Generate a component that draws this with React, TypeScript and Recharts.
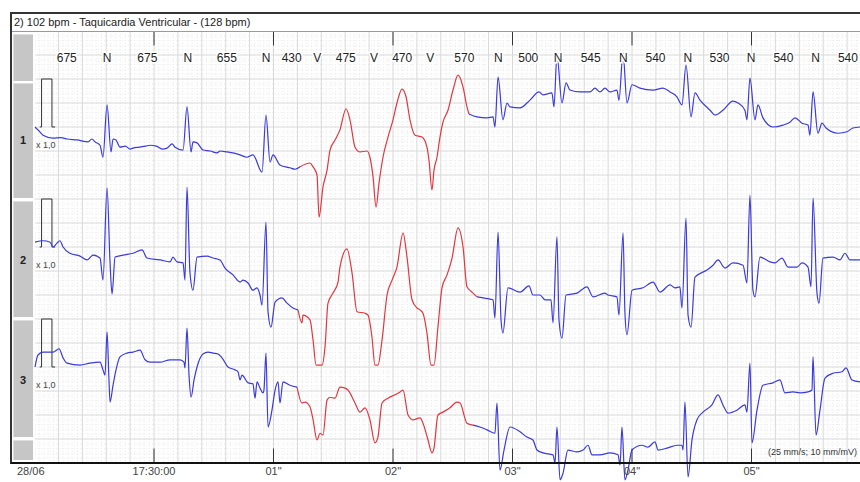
import React from "react";
import {
	LabelList,
	Line,
	LineChart,
	ReferenceLine,
	XAxis,
	YAxis,
} from "recharts";

type Pt = [number, number]; // [time ms from 17:30:00, amplitude mV]

const FONT = "'Liberation Sans', Arial, sans-serif";
const BLUE = "#3a3ade";
const RED = "#e2363e";

// time window (ms) and vertical window (mV, 0 = top of the strip)
const T_MIN = -996;
const T_MAX = 5908;
const V_MIN = -9.396;
const V_MAX = 0;
const V_AXIS = -8.98; // bottom edge of the paper

// lead baselines inside the strip
const leadOffsets = [-2, -4.5, -7];
const leadNames = ["1", "2", "3"];

// beat annotations
const firstBeat = -1068;
const rrIntervals = [675, 675, 655, 430, 475, 470, 570, 500, 545, 540, 530, 540, 540];
const beatTypes = ["N", "N", "N", "N", "V", "V", "V", "N", "N", "N", "N", "N", "N", "N"];

// time axis
const timeTicks = [0, 1000, 2000, 3000, 4000, 5000];
const timeLabels = ["17:30:00", '01"', '02"', '03"', '04"', '05"'];

// 1 mV calibration pulse
const calibrationPulse: Pt[] = [
	[-956, 0], [-941, 0], [-941, 1], [-854, 1], [-854, 0], [-828, 0],
];

// lead 1
const lead1Before: Pt[] = [
	[-996, 0], [-971, -0.06], [-929, -0.17], [-845, -0.23], [-780, -0.22], [-728, -0.25],
	[-644, -0.27], [-552, -0.31], [-519, -0.25], [-494, -0.31], [-452, -0.38], [-427, -0.63],
	[-393, 0.46], [-360, -0.52], [-343, -0.25], [-318, -0.27], [-285, -0.42], [-240, -0.4],
	[-200, -0.46], [-176, -0.44], [-120, -0.42], [-70, -0.4], [-33, -0.38], [20, -0.4],
	[70, -0.46], [109, -0.44], [151, -0.35], [176, -0.42], [243, -0.48], [276, 0.42],
	[310, -0.52], [326, -0.31], [360, -0.33], [410, -0.48], [470, -0.5], [527, -0.54],
	[552, -0.5], [610, -0.52], [661, -0.54], [720, -0.58], [778, -0.63], [828, -0.58],
	[904, -0.94], [937, 0.25], [971, -0.73], [996, -0.58], [1054, -0.79], [1138, -0.85],
	[1180, -0.88], [1222, -0.83],
];
const lead1Vt: Pt[] = [
	[1222, -0.83], [1305, -0.75], [1331, -0.83], [1364, -1.0], [1381, -1.88], [1414, -1.25],
	[1448, -0.9], [1473, -0.48], [1515, -0.27], [1556, -0.06], [1607, 0.38], [1640, 0.15],
	[1682, -0.42], [1724, -0.52], [1782, -0.5], [1807, -0.63], [1833, -1.04], [1858, -1.67],
	[1883, -1.17], [1916, -0.63], [1958, -0.21], [2000, 0.15], [2033, 0.5], [2075, 0.79],
	[2109, 0.63], [2142, 0.15], [2184, -0.17], [2243, -0.21], [2284, -0.42], [2301, -0.69],
	[2326, -1.31], [2343, -0.9], [2368, -0.63], [2393, -0.21], [2418, 0.1], [2460, 0.35],
	[2502, 0.77], [2544, 1.08], [2586, 0.83], [2619, 0.42], [2636, 0.27],
];
const lead1After: Pt[] = [
	[2636, 0.27], [2703, 0.21], [2787, 0.19], [2837, 0.21], [2853, 0], [2879, 1.04],
	[2920, 0.15], [2954, 0.5], [2979, 0.42], [3063, 0.4], [3146, 0.56], [3222, 0.73],
	[3255, 0.67], [3330, 0.71], [3347, 0.42], [3372, 1.5], [3414, 0.5], [3448, 0.92],
	[3481, 0.77], [3565, 0.73], [3648, 0.73], [3690, 0.81], [3732, 0.73], [3774, 0.81],
	[3816, 0.73], [3874, 0.77], [3891, 0.56], [3925, 1.54], [3958, 0.5], [4000, 0.88],
	[4066, 0.81], [4176, 0.77], [4259, 0.81], [4318, 0.73], [4376, 0.63], [4418, 0.46],
	[4452, 1.29], [4494, 0.21], [4527, 0.71], [4569, 0.56], [4653, 0.35], [4694, 0.25],
	[4761, 0.35], [4845, 0.54], [4887, 0.5], [4945, 0.35], [4962, 0.15], [4987, 1.02],
	[5029, 0.15], [5054, 0.46], [5096, 0.19], [5180, 0], [5263, 0.04], [5322, 0.1],
	[5364, 0.19], [5423, 0.08], [5473, 0.04], [5489, -0.17], [5515, 0.73], [5556, -0.13],
	[5590, 0.08], [5624, -0.02], [5724, -0.13], [5799, -0.1], [5849, -0.02], [5908, 0],
];

// lead 2
const lead2Before: Pt[] = [
	[-996, 0.1], [-929, 0.13], [-870, 0.1], [-845, 0], [-812, 0.08], [-787, 0.13],
	[-761, 0], [-703, -0.13], [-619, -0.19], [-561, -0.27], [-510, -0.17], [-452, -0.23],
	[-427, -0.69], [-393, 1.23], [-368, -0.33], [-351, -0.98], [-326, -0.21], [-259, -0.17],
	[-176, -0.13], [-100, -0.06], [-59, -0.23], [50, -0.27], [134, -0.31], [159, -0.21],
	[192, -0.31], [243, -0.33], [259, -0.69], [276, 1.25], [301, -0.54], [326, -0.9],
	[360, -0.21], [444, -0.19], [494, -0.23], [552, -0.27], [594, -0.44], [661, -0.58],
	[720, -0.73], [745, -0.69], [787, -0.75], [828, -0.9], [862, -0.85], [887, -1.0],
	[904, -1.21], [937, 0.52], [954, -1.35], [979, -1.67], [1013, -1.15], [1071, -1.06],
	[1113, -1.17], [1163, -1.27], [1205, -1.31],
];
const lead2Vt: Pt[] = [
	[1205, -1.31], [1238, -1.58], [1247, -1.42], [1305, -1.52], [1331, -1.94], [1356, -2.46],
	[1406, -2.46], [1431, -2.08], [1456, -1.17], [1498, -0.96], [1540, -0.73], [1556, -0.42],
	[1615, -0.04], [1657, -0.54], [1699, -1.35], [1766, -1.38], [1791, -1.42], [1824, -1.88],
	[1849, -2.46], [1874, -2.46], [1908, -1.94], [1950, -1.0], [1992, -0.69], [2033, -0.42],
	[2084, 0.29], [2117, -0.21], [2159, -1.1], [2201, -1.27], [2226, -1.31], [2251, -1.38],
	[2284, -1.79], [2318, -2.46], [2343, -2.46], [2376, -1.67], [2410, -0.85], [2452, -0.58],
	[2494, -0.23], [2544, 0.4], [2586, 0], [2619, -0.83], [2661, -0.94], [2703, -1.04],
];
const lead2After: Pt[] = [
	[2703, -1.04], [2753, -1.06], [2837, -1.1], [2853, -1.48], [2879, 0.31], [2904, -1.52],
	[2920, -1.79], [2962, -0.85], [3063, -0.94], [3138, -0.81], [3171, -1.0], [3230, -1.0],
	[3272, -1.1], [3322, -1.1], [3339, -1.58], [3372, 0.21], [3389, -1.52], [3414, -1.9],
	[3448, -1.0], [3540, -0.96], [3623, -0.83], [3674, -1.04], [3774, -0.96], [3799, -1.0],
	[3874, -1.04], [3891, -1.42], [3925, 0.29], [3941, -1.38], [3958, -1.83], [4000, -0.9],
	[4092, -0.85], [4176, -0.73], [4234, -0.94], [4318, -0.79], [4360, -0.85], [4401, -0.83],
	[4418, -1.27], [4452, 0.6], [4469, -1.42], [4494, -1.67], [4527, -0.63], [4627, -0.48],
	[4678, -0.38], [4720, -0.27], [4778, -0.44], [4845, -0.33], [4929, -0.38], [4962, -0.75],
	[4987, 1.08], [5012, -0.9], [5029, -1.04], [5071, -0.21], [5155, -0.31], [5197, -0.33],
	[5255, -0.23], [5306, -0.42], [5381, -0.42], [5423, -0.33], [5473, -0.42], [5498, -0.83],
	[5515, 1.02], [5548, -0.96], [5565, -1.17], [5598, -0.23], [5682, -0.21], [5741, -0.27],
	[5782, -0.13], [5824, -0.27], [5908, -0.27],
];

// lead 3
const lead3Before: Pt[] = [
	[-996, 0], [-971, 0.25], [-929, 0.31], [-845, 0.31], [-795, 0.38], [-761, 0.19],
	[-728, 0.08], [-619, 0.04], [-536, 0.08], [-452, 0.1], [-427, -0.06], [-410, -0.17],
	[-393, 0.73], [-377, -0.27], [-368, -0.73], [-343, -0.38], [-318, -0.06], [-285, 0.21],
	[-226, 0.29], [-176, 0.31], [-117, 0.35], [-75, 0.15], [-33, 0.1], [50, 0.1],
	[134, 0.15], [218, 0.15], [251, 0.1], [259, -0.02], [276, 0.81], [293, -0.17],
	[310, -0.63], [335, -0.27], [360, 0], [410, 0.27], [452, 0.31], [494, 0.29],
	[536, 0.27], [569, 0.19], [619, 0], [678, -0.06], [703, -0.1], [720, -0.27],
	[736, -0.17], [787, -0.33], [828, -0.35], [845, -0.65], [862, -0.31], [887, -0.44],
	[912, -0.54], [920, -0.48], [937, 0.29], [954, -1.25], [987, -0.9], [1013, -0.48],
	[1038, -0.31], [1054, -0.75], [1079, -0.31], [1138, -0.38], [1197, -0.42],
];
const lead3Vt: Pt[] = [
	[1197, -0.42], [1238, -0.75], [1264, -0.73], [1305, -0.83], [1331, -1.1], [1364, -1.52],
	[1389, -1.38], [1414, -1.42], [1448, -0.69], [1473, -0.63], [1515, -0.65], [1556, -0.42],
	[1598, -0.44], [1623, -0.48], [1682, -0.75], [1724, -0.94], [1766, -0.85], [1807, -1.1],
	[1849, -1.58], [1874, -1.46], [1908, -0.75], [1958, -0.65], [2017, -0.58], [2059, -0.52],
	[2084, -0.48], [2126, -1.0], [2167, -1.1], [2226, -1.06], [2251, -1.17], [2293, -1.52],
	[2326, -1.79], [2343, -1.69], [2376, -1.0], [2418, -0.94], [2477, -0.85], [2535, -0.73],
	[2561, -0.75], [2619, -1.17], [2669, -1.21],
];
const lead3After: Pt[] = [
	[2669, -1.21], [2728, -1.25], [2787, -1.31], [2853, -1.38], [2870, -0.75], [2895, -2.15],
	[2929, -1.73], [2979, -1.25], [3063, -1.35], [3121, -1.46], [3171, -1.52], [3205, -1.73],
	[3255, -1.79], [3339, -1.83], [3356, -2.0], [3372, -1.25], [3398, -2.35], [3423, -2.21],
	[3464, -1.73], [3540, -1.77], [3590, -1.73], [3632, -1.63], [3665, -1.83], [3732, -1.83],
	[3816, -1.79], [3883, -1.83], [3900, -2.04], [3916, -1.25], [3941, -2.35], [3966, -2.15],
	[4000, -1.73], [4083, -1.63], [4134, -1.67], [4192, -1.56], [4218, -1.73], [4293, -1.69],
	[4376, -1.63], [4418, -1.63], [4427, -1.73], [4443, -0.73], [4469, -2.29], [4502, -1.52],
	[4544, -1.1], [4594, -0.94], [4669, -0.79], [4720, -0.58], [4761, -0.79], [4803, -0.96],
	[4878, -0.9], [4945, -0.79], [4962, -0.94], [4987, 0.08], [5004, -1.58], [5046, -0.9],
	[5096, -0.38], [5180, -0.33], [5238, -0.27], [5280, -0.54], [5347, -0.52], [5406, -0.54],
	[5473, -0.52], [5506, -0.48], [5515, 0.21], [5540, -1.42], [5573, -0.9], [5615, -0.23],
	[5682, -0.13], [5757, -0.1], [5791, -0.02], [5841, -0.27], [5908, -0.31],
];

const leads = [
	{ before: lead1Before, vt: lead1Vt, after: lead1After },
	{ before: lead2Before, vt: lead2Vt, after: lead2After },
	{ before: lead3Before, vt: lead3Vt, after: lead3After },
];

const toRows = (pts: Pt[], offset: number) =>
	pts.map(([t, mv]) => ({ t, v: mv + offset }));

// beat times and labels row
const beatTimes = rrIntervals.reduce<number[]>(
	(acc, rr) => [...acc, acc[acc.length - 1] + rr],
	[firstBeat],
);
const annotations = [
	...beatTimes.map((t, i) => ({ t, label: beatTypes[i] })),
	...rrIntervals.map((rr, i) => ({ t: beatTimes[i] + rr / 2, label: String(rr) })),
]
	.filter((a) => a.t > T_MIN && a.t < T_MAX)
	.sort((a, b) => a.t - b.t)
	.map((a) => ({ ...a, v: -0.56 }));

const timeRows = timeTicks.map((t, i) => ({ t, v: -9.17, label: timeLabels[i] }));

// paper grid: 40 ms / 0.1 mV small squares, 200 ms / 0.5 mV big squares
const range = (from: number, to: number, step: number) => {
	const out: number[] = [];
	for (let x = from; x <= to + 1e-9; x += step) out.push(Number(x.toFixed(3)));
	return out;
};
const majorX = range(-800, 5800, 200);
const minorX = range(-960, 5880, 40).filter((t) => t % 200 !== 0);
const majorY = range(-8.5, 0, 0.5);
const minorY = range(-8.9, -0.1, 0.1).filter((v) => Math.abs(v * 2 - Math.round(v * 2)) > 1e-6);

const makeLabel = (size: number, color: string, halo: boolean) => (props: any) => {
	const vb = props.viewBox ?? {};
	const x = props.x ?? (vb.x ?? 0) + (vb.width ?? 0) / 2;
	const y = props.y ?? (vb.y ?? 0) + (vb.height ?? 0) / 2;
	return (
		<text
			x={x}
			y={y}
			textAnchor="middle"
			dominantBaseline="central"
			fontSize={size}
			fill={color}
			fontFamily={FONT}
			stroke={halo ? "#fff" : "none"}
			strokeWidth={halo ? 3 : 0}
			paintOrder="stroke"
		>
			{props.value}
		</text>
	);
};
const BeatLabel = makeLabel(12, "#222", true);
const TimeLabel = makeLabel(11, "#444", false);

const grayBlocks = [
	[34, 81],
	[83, 198],
	[201, 317],
	[320, 437],
	[440, 460],
];

export default function App() {
	return (
		<div
			style={{
				position: "absolute",
				left: 0,
				top: 0,
				width: 860,
				height: 482,
				background: "#fff",
				overflow: "hidden",
				fontFamily: FONT,
			}}
		>
			<LineChart
				width={860}
				height={482}
				margin={{ top: 31, right: 0, bottom: 0, left: 35 }}
			>
				<XAxis dataKey="t" type="number" domain={[T_MIN, T_MAX]} hide />
				<YAxis type="number" domain={[V_MIN, V_MAX]} hide />
				{minorX.map((t) => (
					<ReferenceLine
						key={`mx${t}`}
						segment={[
							{ x: t, y: V_MAX },
							{ x: t, y: V_AXIS },
						]}
						stroke="#ececec"
						strokeDasharray="1 2"
					/>
				))}
				{minorY.map((v) => (
					<ReferenceLine key={`my${v}`} y={v} stroke="#ececec" strokeDasharray="1 2" />
				))}
				{majorX.map((t) => (
					<ReferenceLine
						key={`Mx${t}`}
						segment={[
							{ x: t, y: V_MAX },
							{ x: t, y: V_AXIS },
						]}
						stroke="#d8d8d8"
					/>
				))}
				{majorY.map((v) => (
					<ReferenceLine key={`My${v}`} y={v} stroke="#d8d8d8" />
				))}
				{timeTicks.map((t) => (
					<ReferenceLine
						key={`top${t}`}
						segment={[
							{ x: t, y: -0.02 },
							{ x: t, y: -0.3 },
						]}
						stroke="#333"
					/>
				))}
				{timeTicks.map((t) => (
					<ReferenceLine
						key={`bot${t}`}
						segment={[
							{ x: t, y: -8.7 },
							{ x: t, y: V_AXIS },
						]}
						stroke="#333"
					/>
				))}
				{leadOffsets.map((off, i) => (
					<Line
						key={`cal${i}`}
						data={toRows(calibrationPulse, off)}
						dataKey="v"
						type="linear"
						stroke="#333"
						strokeWidth={1}
						dot={false}
						isAnimationActive={false}
					/>
				))}
				{leads.map((lead, i) => [
					<Line
						key={`b${i}`}
						data={toRows(lead.before, leadOffsets[i])}
						dataKey="v"
						type="monotone"
						stroke={BLUE}
						strokeWidth={1.2}
						dot={false}
						isAnimationActive={false}
					/>,
					<Line
						key={`v${i}`}
						data={toRows(lead.vt, leadOffsets[i])}
						dataKey="v"
						type="monotone"
						stroke={RED}
						strokeWidth={1.2}
						dot={false}
						isAnimationActive={false}
					/>,
					<Line
						key={`a${i}`}
						data={toRows(lead.after, leadOffsets[i])}
						dataKey="v"
						type="monotone"
						stroke={BLUE}
						strokeWidth={1.2}
						dot={false}
						isAnimationActive={false}
					/>,
				])}
				<Line
					data={annotations}
					dataKey="v"
					stroke="none"
					dot={false}
					activeDot={false}
					isAnimationActive={false}
				>
					<LabelList dataKey="label" content={BeatLabel} />
				</Line>
				<Line
					data={timeRows}
					dataKey="v"
					stroke="none"
					dot={false}
					activeDot={false}
					isAnimationActive={false}
				>
					<LabelList dataKey="label" content={TimeLabel} />
				</Line>
			</LineChart>

			{/* frame and side column */}
			<div
				style={{
					position: "absolute",
					left: 10,
					top: 12,
					width: 860,
					height: 448,
					borderTop: "2px solid #333",
					borderLeft: "2px solid #333",
					borderBottom: "2px solid #111",
					pointerEvents: "none",
				}}
			/>
			<div
				style={{
					position: "absolute",
					left: 12,
					top: 14,
					width: 848,
					height: 17,
					background: "#fff",
					borderBottom: "1px solid #9a9a9a",
					fontSize: 11,
					lineHeight: "17px",
					color: "#222",
					paddingLeft: 2,
				}}
			>
				2) 102 bpm - Taquicardia Ventricular - (128 bpm)
			</div>
			{grayBlocks.map(([y0, y1]) => (
				<div
					key={y0}
					style={{
						position: "absolute",
						left: 13,
						top: y0,
						width: 20,
						height: y1 - y0,
						background: "#c6c6c6",
						boxShadow: "inset 1px 1px 0 #dedede",
					}}
				/>
			))}
			{leadOffsets.map((off, i) => {
				const base = 31 - off * 48;
				return (
					<React.Fragment key={i}>
						<div
							style={{
								position: "absolute",
								left: 13,
								width: 20,
								top: base + 7,
								textAlign: "center",
								fontSize: 11,
								fontWeight: "bold",
								color: "#222",
							}}
						>
							{leadNames[i]}
						</div>
						<div
							style={{
								position: "absolute",
								left: 36,
								top: base + 13,
								fontSize: 9,
								color: "#444",
							}}
						>
							x 1,0
						</div>
					</React.Fragment>
				);
			})}
			<div
				style={{
					position: "absolute",
					left: 17,
					top: 465,
					fontSize: 11,
					color: "#444",
				}}
			>
				28/06
			</div>
			<div
				style={{
					position: "absolute",
					left: 768,
					top: 447,
					fontSize: 9,
					color: "#333",
					whiteSpace: "nowrap",
				}}
			>
				(25 mm/s; 10 mm/mV)
			</div>
		</div>
	);
}
